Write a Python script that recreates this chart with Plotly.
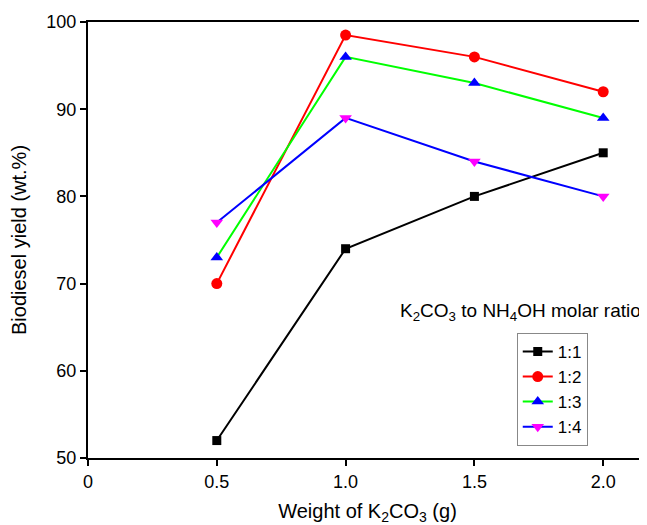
import plotly.graph_objects as go

weights = [0.5, 1.0, 1.5, 2.0]
ratios = ["1:1", "1:2", "1:3", "1:4"]
yield_11 = [52, 74, 80, 85]
yield_12 = [70, 98.5, 96, 92]
yield_13 = [73, 96, 93, 89]
yield_14 = [77, 89, 84, 80]

series = [yield_11, yield_12, yield_13, yield_14]
line_colors = ["black", "#ff0000", "#00ff00", "#0000ff"]
marker_colors = ["black", "#ff0000", "#0000ff", "#ff00ff"]
symbols = ["square", "circle", "triangle-up", "triangle-down"]
sizes = [9, 11, 11, 11]

fig = go.Figure()
for name, ys, lc, mc, sym, sz in zip(ratios, series, line_colors, marker_colors, symbols, sizes):
    fig.add_trace(go.Scatter(
        x=weights, y=ys, name=name, mode="lines+markers",
        line=dict(color=lc, width=2),
        marker=dict(color=mc, symbol=sym, size=sz),
    ))

font = "Liberation Sans, Arial, Helvetica, sans-serif"
fig.update_layout(
    width=639, height=517,
    margin=dict(l=80, r=0, t=14, b=67, autoexpand=False),
    plot_bgcolor="white", paper_bgcolor="white",
    font=dict(family=font, size=18, color="black"),
    showlegend=True,
    legend=dict(x=0.767, y=0.287, xanchor="left", yanchor="top",
                bordercolor="#888888", borderwidth=1,
                font=dict(size=17), itemwidth=30, tracegroupgap=0,
                bgcolor="white"),
    xaxis=dict(range=[0, 2.17], tickvals=[0, 0.5, 1.0, 1.5, 2.0],
               ticktext=["0", "0.5", "1.0", "1.5", "2.0"],
               showgrid=False, zeroline=False, showline=True,
               linecolor="black", linewidth=2, mirror=True,
               ticks="outside", ticklen=6, tickwidth=2, tickcolor="black",
               tickfont=dict(size=18),
               title=dict(text="Weight of K<sub>2</sub>CO<sub>3</sub> (g)", standoff=14,
                          font=dict(size=20))),
    yaxis=dict(range=[50, 100], tickvals=[50, 60, 70, 80, 90, 100],
               showgrid=False, zeroline=False, showline=True,
               linecolor="black", linewidth=2,
               ticks="outside", ticklen=6, tickwidth=2, tickcolor="black",
               tickfont=dict(size=18),
               title=dict(text="Biodiesel yield (wt.%)", standoff=14,
                          font=dict(size=20))),
    annotations=[dict(text="K<sub>2</sub>CO<sub>3</sub> to NH<sub>4</sub>OH molar ratio",
                      xref="paper", yref="paper", x=0.993, y=0.335,
                      xanchor="right", yanchor="middle", showarrow=False,
                      font=dict(size=19))],
)
fig.write_html("out.html")
